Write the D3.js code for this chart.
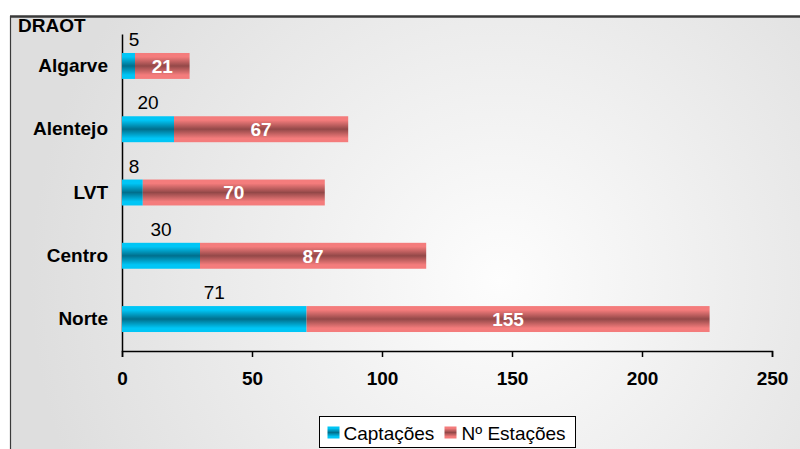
<!DOCTYPE html>
<html>
<head>
<meta charset="utf-8">
<script src="https://cdn.jsdelivr.net/npm/d3@7"></script>
<style>
  body { margin: 0; background: #fff; }
  svg { display: block; font-family: "Liberation Sans", Arial, sans-serif; }
</style>
</head>
<body>
<svg id="chart"></svg>
<script>
const regions = ["Algarve", "Alentejo", "LVT", "Centro", "Norte"];
const captacoes = [5, 20, 8, 30, 71];
const estacoes = [21, 67, 70, 87, 155];
const xTicks = [0, 50, 100, 150, 200, 250];
const seriesNames = ["Captações", "Nº Estações"];

const width = 800, height = 449;
const margin = { top: 34, right: 28, bottom: 98, left: 122 };
const fs = 19;
const ff = "Liberation Sans, Arial, sans-serif";

const svg = d3.select("#chart").attr("width", width).attr("height", height);
const defs = svg.append("defs");

const bg = defs.append("radialGradient").attr("id", "bg")
  .attr("gradientUnits", "userSpaceOnUse")
  .attr("cx", 500).attr("cy", 280).attr("r", 470);
bg.append("stop").attr("offset", "0%").attr("stop-color", "#fdfdfd");
bg.append("stop").attr("offset", "100%").attr("stop-color", "#dedede");

function barGrad(id, edge, mid) {
  const g = defs.append("linearGradient").attr("id", id)
    .attr("x1", 0).attr("y1", 0).attr("x2", 0).attr("y2", 1);
  g.append("stop").attr("offset", "0%").attr("stop-color", edge);
  g.append("stop").attr("offset", "15%").attr("stop-color", edge);
  g.append("stop").attr("offset", "50%").attr("stop-color", mid);
  g.append("stop").attr("offset", "85%").attr("stop-color", edge);
  g.append("stop").attr("offset", "100%").attr("stop-color", edge);
}
barGrad("blue", "#00c6f6", "#006f8d");
barGrad("red", "#f47c7c", "#934848");

// frame
svg.append("rect").attr("x", 10).attr("y", 16).attr("width", 800).attr("height", 460)
  .attr("fill", "url(#bg)");
svg.append("line").attr("x1", 10).attr("x2", 800).attr("y1", 16.5).attr("y2", 16.5)
  .attr("stroke", "#3a3a3a").attr("stroke-width", 2.5);
svg.append("line").attr("x1", 10.5).attr("x2", 10.5).attr("y1", 16).attr("y2", 449)
  .attr("stroke", "#3a3a3a").attr("stroke-width", 1.2);

svg.append("text").attr("x", 18).attr("y", 32)
  .attr("font-size", fs).attr("font-weight", "bold").text("DRAOT");

const x = d3.scaleLinear().domain([0, 250]).range([margin.left, width - margin.right]);
const y = d3.scaleBand().domain(regions)
  .range([margin.top, height - margin.bottom]).paddingInner(0.59).paddingOuter(0.3);

// axes
const xAxis = svg.append("g")
  .attr("transform", `translate(0,${height - margin.bottom})`)
  .call(d3.axisBottom(x).tickValues(xTicks).tickSize(6).tickPadding(15));
xAxis.select(".domain").attr("stroke", "#000").attr("stroke-width", 1.5);
xAxis.selectAll(".tick line").attr("stroke", "#000").attr("stroke-width", 1.5);
xAxis.selectAll("text").attr("font-size", fs).attr("font-weight", "bold")
  .attr("font-family", ff).attr("fill", "#000");

const yAxis = svg.append("g")
  .attr("transform", `translate(${margin.left},0)`)
  .call(d3.axisLeft(y).tickSize(0).tickPadding(14));
yAxis.select(".domain").attr("stroke", "#000").attr("stroke-width", 1.5);
yAxis.selectAll("text").attr("font-size", fs).attr("font-weight", "bold")
  .attr("font-family", ff).attr("fill", "#000");

// bars
const rows = regions.map((r, i) => ({ region: r, c: captacoes[i], e: estacoes[i] }));
const g = svg.append("g");

g.selectAll(".cap").data(rows).enter().append("rect")
  .attr("x", x(0)).attr("y", d => y(d.region))
  .attr("width", d => x(d.c) - x(0)).attr("height", y.bandwidth())
  .attr("fill", "url(#blue)");

g.selectAll(".est").data(rows).enter().append("rect")
  .attr("x", d => x(d.c)).attr("y", d => y(d.region))
  .attr("width", d => x(d.c + d.e) - x(d.c)).attr("height", y.bandwidth())
  .attr("fill", "url(#red)");

g.selectAll(".capLbl").data(rows).enter().append("text")
  .attr("x", d => Math.max(x(d.c / 2), x(0) + 12)).attr("y", d => y(d.region) - 7)
  .attr("text-anchor", "middle").attr("font-size", fs).text(d => d.c);

g.selectAll(".estLbl").data(rows).enter().append("text")
  .attr("x", d => x(d.c + d.e / 2)).attr("y", d => y(d.region) + y.bandwidth() / 2)
  .attr("dy", "0.36em").attr("text-anchor", "middle")
  .attr("font-size", fs).attr("font-weight", "bold").attr("fill", "#fff").text(d => d.e);

// legend
const lg = svg.append("g").attr("transform", "translate(319.5,416.5)");
lg.append("rect").attr("width", 256).attr("height", 31)
  .attr("fill", "#fff").attr("stroke", "#000").attr("stroke-width", 1);
const items = [
  { name: seriesNames[0], fill: "url(#blue)", x: 8, tx: 24 },
  { name: seriesNames[1], fill: "url(#red)", x: 125, tx: 142 }
];
items.forEach(it => {
  lg.append("rect").attr("x", it.x).attr("y", 10).attr("width", 12).attr("height", 12)
    .attr("fill", it.fill);
  lg.append("text").attr("x", it.tx).attr("y", 23).attr("font-size", fs).text(it.name);
});
</script>
</body>
</html>
